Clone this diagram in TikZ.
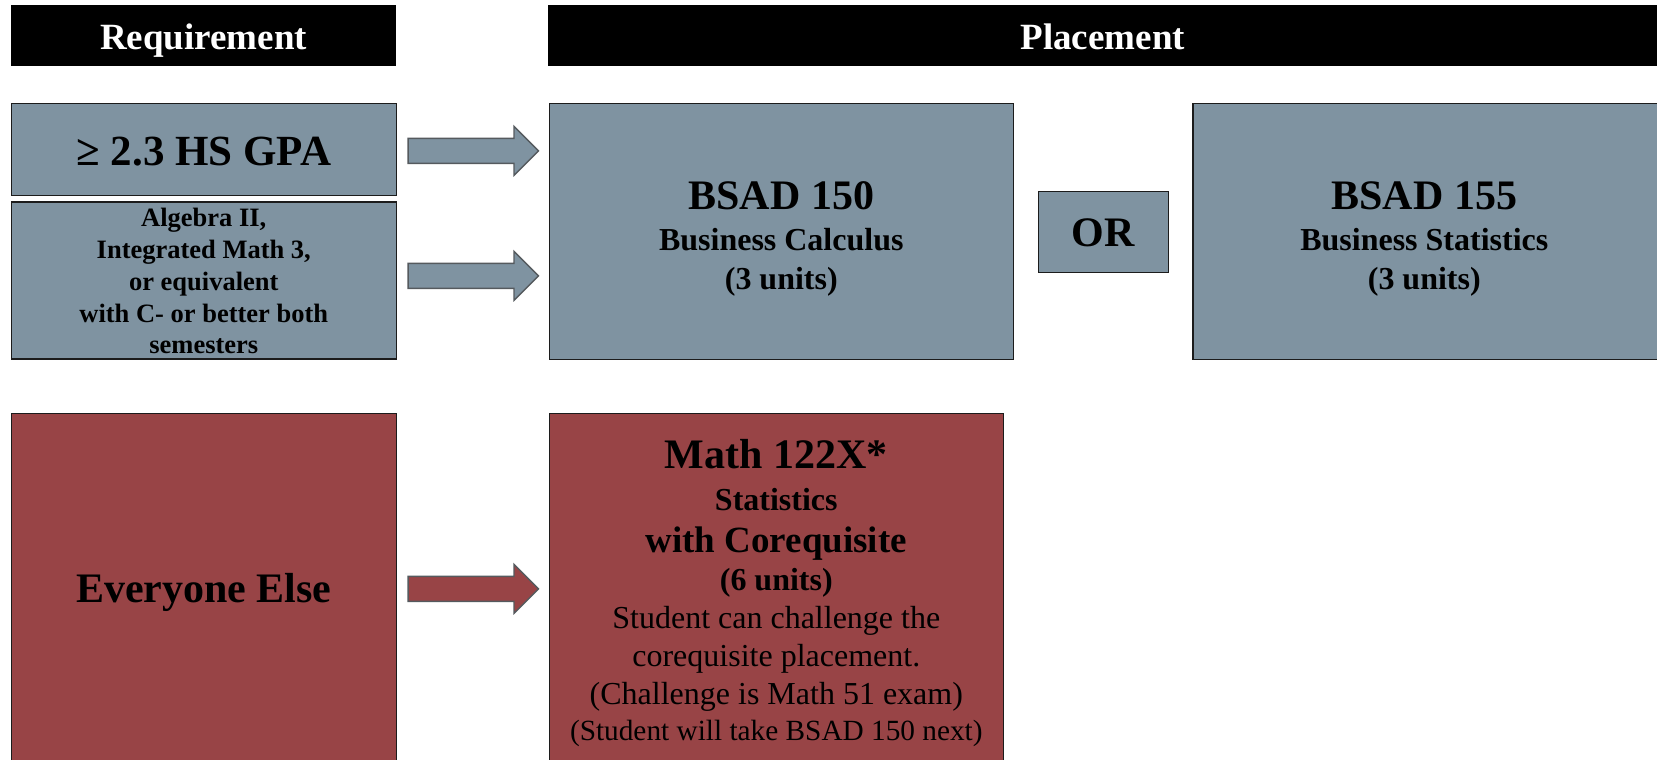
\documentclass[tikz,border=0pt]{standalone}
\usepackage{fontspec}
\setmainfont{Liberation Serif}
\usetikzlibrary{calc}
\definecolor{slate}{HTML}{7F93A1}
\definecolor{brick}{HTML}{984446}
\definecolor{boxedge}{HTML}{1C1C1C}
\definecolor{arrowedge}{HTML}{555A5E}
\newcommand{\fsz}[2]{\fontsize{#1}{#2}\selectfont}
\tikzset{
  box/.style={draw=boxedge, line width=1.6pt, inner sep=0pt, anchor=north west},
  slatebox/.style={box, fill=slate},
  brickbox/.style={box, fill=brick},
  lbl/.style={inner sep=0pt, align=center, text=black, font=\fsz{32}{38}\bfseries},
  headbox/.style={fill=black, draw=none, inner sep=0pt, anchor=north west,
    text=white, font=\fsz{37}{44}\bfseries, text height=32pt, text depth=4.5pt},
  barrow/.style={draw=arrowedge, line width=1.4pt, fill=#1, line join=miter,
    to path={let \p1=(\tikztostart), \p2=(\tikztotarget) in
      (\x1,\y1+12.5pt) -- (\x2-24.5pt,\y1+12.5pt) -- (\x2-24.5pt,\y1+24.5pt)
      -- (\x2,\y1) -- (\x2-24.5pt,\y1-24.5pt) -- (\x2-24.5pt,\y1-12.5pt)
      -- (\x1,\y1-12.5pt) -- cycle}}
}
\begin{document}
\begin{tikzpicture}[x=1pt,y=-1pt]
\clip (0,0) rectangle (1657,760);
\fill[white] (0,0) rectangle (1657,760);

% headers
\node[headbox, minimum width=385.5pt, minimum height=60.5pt] (reqh) at (10.5,5) {Requirement};
\node[headbox, minimum width=1120pt, minimum height=60.5pt] (plah) at (548,5) {\hspace*{-11pt}Placement};

% requirement boxes
\node[slatebox, minimum width=385pt, minimum height=92pt] (gpa) at (10.5,102.5) {};
\node[slatebox, minimum width=385pt, minimum height=157pt] (alg) at (10.5,201) {};
\node[brickbox, minimum width=385pt, minimum height=351pt] (eve) at (10.5,412.5) {};

% placement boxes
\node[slatebox, minimum width=464pt, minimum height=256pt] (b150) at (548.5,102.5) {};
\node[slatebox, minimum width=130pt, minimum height=81pt] (orb) at (1037.5,190.5) {};
\node[slatebox, minimum width=470pt, minimum height=256pt] (b155) at (1192,102.5) {};
\node[brickbox, minimum width=454pt, minimum height=351pt] (m122) at (548.5,412.5) {};

% texts
\node[lbl, font=\fsz{43}{50}\bfseries] (gpatxt) at ([yshift=-2pt]gpa.center) {≥ 2.3 HS GPA};
\node[lbl, font=\fsz{26.5}{31.7}\bfseries] (algtxt) at ([yshift=-1pt]alg.center)
  {Algebra II,\\Integrated Math 3,\\or equivalent\\with C- or better both\\semesters};
\node[lbl, font=\fsz{42}{48}\bfseries] (evetxt) at ([yshift=-4pt]eve.center) {Everyone Else};
\node[lbl] (b150txt) at ([yshift=-8pt]b150.center)
  {\fsz{42}{48}BSAD 150\\[3pt]Business Calculus\\[1pt](3 units)};
\node[lbl, font=\fsz{42}{48}\bfseries] (ortxt) at ([yshift=-1pt]orb.center) {OR};
\node[lbl] (b155txt) at ([xshift=-3.5pt,yshift=-8pt]b155.center)
  {\fsz{42}{48}BSAD 155\\[3pt]Business Statistics\\[1pt](3 units)};
\node[lbl] (m122txt) at ([yshift=-4.5pt]m122.center)
  {\fsz{42}{48}Math 122X*\\[4pt]Statistics\\[4pt]\fsz{37}{44}with Corequisite\\(6 units)\\
   \mdseries Student can challenge the\\\mdseries corequisite placement.\\
   \mdseries (Challenge is Math 51 exam)\\[-2pt]\mdseries\fsz{29.3}{35}(Student will take BSAD 150 next)};

% arrows
\coordinate (a1s) at ([xshift=11pt,yshift=-1.5pt]gpa.east);
\coordinate (a1e) at ([xshift=-10pt]b150.west);
\coordinate (a2s) at ([xshift=11pt,yshift=4.5pt]alg.east);
\coordinate (a2e) at ([xshift=-10pt]b150.west);
\coordinate (a3s) at ([xshift=11pt]eve.east);
\coordinate (a3e) at ([xshift=-10pt]m122.west);
\draw[barrow=slate] (a1s) to (a1e);
\draw[barrow=slate] (a2s) to (a2e);
\draw[barrow=brick] (a3s) to (a3e);
\end{tikzpicture}
\end{document}
